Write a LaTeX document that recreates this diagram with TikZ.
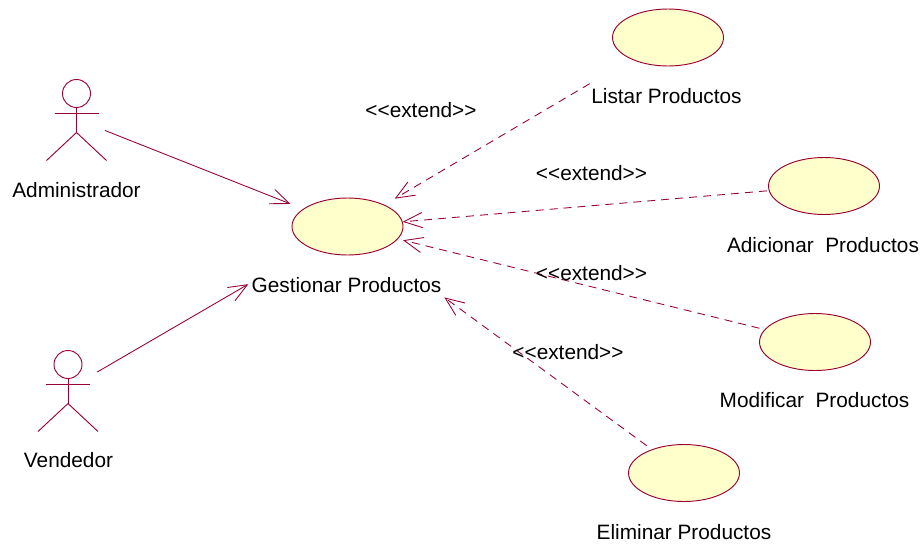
\documentclass[tikz,border=0pt]{standalone}
\usepackage{fontspec}
\setmainfont{Liberation Sans}
\usetikzlibrary{arrows.meta,shapes.geometric}
\definecolor{umlline}{RGB}{153,0,51}
\definecolor{umlfill}{RGB}{255,255,204}
\tikzset{x=0.75pt,y=-0.75pt,
 usecase/.style={ellipse,draw=umlline,fill=umlfill,line width=0.7pt,minimum width=83.25pt,minimum height=42.75pt,inner sep=0pt},
 lab/.style={font=\fontsize{15.6}{18}\selectfont,text=black,inner sep=0pt},
 assoc/.style={draw=umlline,line width=0.65pt,-{Straight Barb[length=14pt,width=11.5pt,line width=0.65pt]}},
 ext/.style={assoc,dash pattern=on 6pt off 4.5pt},
 actorline/.style={draw=umlline,line width=0.7pt}}
\newcommand{\stickman}[2]{%
 \draw[actorline] (#1,#2) circle[radius=14];
 \draw[actorline] (#1,#2+14) -- (#1,#2+39);
 \draw[actorline] (#1-22,#2+20) -- (#1+22,#2+20);
 \draw[actorline] (#1-30,#2+67) -- (#1,#2+39) -- (#1+30,#2+67);
}
\begin{document}
\begin{tikzpicture}
\useasboundingbox (0,0) rectangle (924,543);
\stickman{76.5}{93.5}
\stickman{68}{364.5}
\coordinate (a) at (76,119);
\coordinate (v) at (68,389);
\node[usecase] (g) at (347.5,226.5) {};
\node[usecase] (l) at (668,37.5) {};
\node[usecase] (ad) at (824,186) {};
\node[usecase] (m) at (815,342) {};
\node[usecase] (e) at (684,473) {};
\draw[assoc,shorten <=23.3pt,shorten >=10.2pt] (a) -- (g);
\draw[assoc,shorten <=25.2pt,shorten >=53.8pt] (v) -- (g);
\draw[ext,shorten <=36pt,shorten >=9pt] (l) -- (g);
\draw[ext,shorten <=1.5pt] (ad) -- (g);
\draw[ext,shorten <=3.9pt,shorten >=3.9pt] (m) -- (g);
\draw[ext,shorten <=4.7pt,shorten >=60pt] (e) -- (g);
\node[lab] (ta) at (76.5,190) {Administrador};
\node[lab] (tv) at (68.5,460) {Vendedor};
\node[lab] (tg) at (346.5,285) {Gestionar Productos};
\node[lab] (tl) at (666.5,96) {Listar Productos};
\node[lab] (tad) at (823,245) {Adicionar\ \ Productos};
\node[lab] (tm) at (814.5,400) {Modificar\ \ Productos};
\node[lab] (te) at (684,532) {Eliminar Productos};
\node[lab] (x1) at (421,110) {<{}<extend>{}>};
\node[lab] (x2) at (591.5,173) {<{}<extend>{}>};
\node[lab] (x3) at (591.5,273) {<{}<extend>{}>};
\node[lab] (x4) at (568,352) {<{}<extend>{}>};
\end{tikzpicture}
\end{document}
